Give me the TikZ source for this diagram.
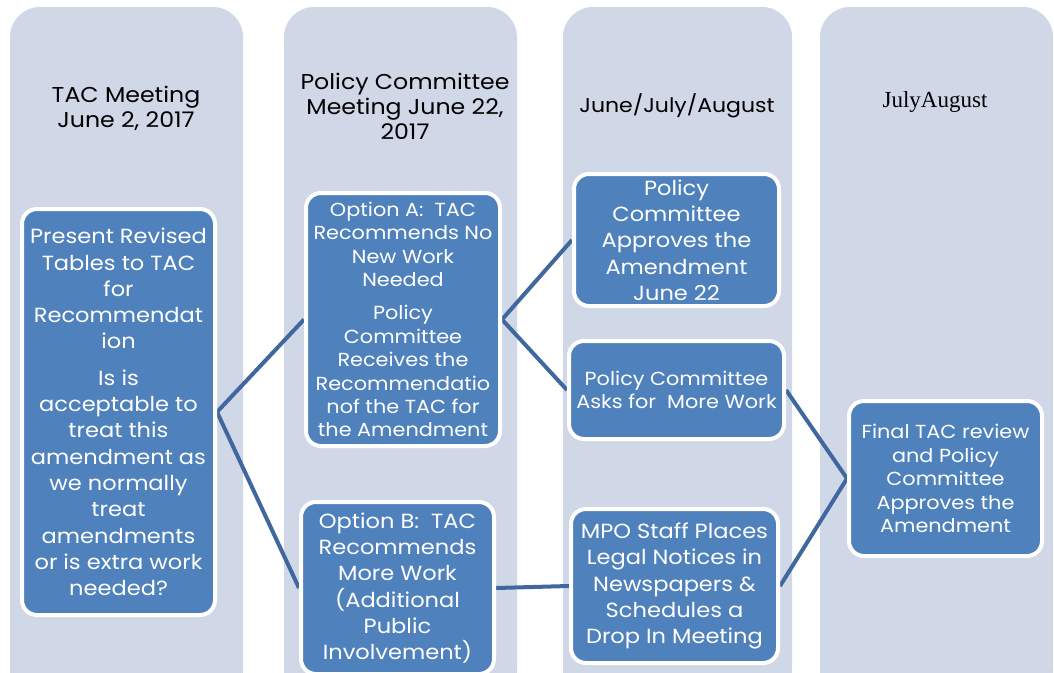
\documentclass[tikz,border=0pt]{standalone}
\usepackage{fontspec}
\setmainfont{Poppins}[FakeStretch=1.1]
\newfontfamily\serifti{Liberation Serif}
\pgfdeclarelayer{bg}
\pgfdeclarelayer{lines}
\pgfsetlayers{bg,lines,main}
\definecolor{colbg}{RGB}{208,216,231}
\definecolor{boxblue}{RGB}{79,129,189}
\definecolor{linkblue}{RGB}{65,104,158}
\tikzset{
  colbox/.style={fill=colbg, rounded corners=30pt},
  stepbox/.style={draw=white, line width=4pt, fill=boxblue, rounded corners=15pt,
    text=white, align=center, inner sep=0pt, font=\fontsize{20.5}{26.3}\selectfont},
  smallbox/.style={stepbox, font=\fontsize{18.9}{23.4}\selectfont},
  title/.style={align=center, text=black, font=\fontsize{21.5}{25}\selectfont},
  link/.style={draw=linkblue, line width=4pt}
}
\begin{document}
\begin{tikzpicture}[x=1pt,y=-1pt]
\useasboundingbox (0,0) rectangle (1054,672);
\clip (0,0) rectangle (1054,672);
\begin{pgfonlayer}{bg}
\fill[colbox] (10,7) rectangle (243,700);
\fill[colbox] (284,7) rectangle (517,700);
\fill[colbox] (563,7) rectangle (792,700);
\fill[colbox] (820,7) rectangle (1053,700);
\end{pgfonlayer}
\node[title] (t1) at (126,108) {TAC Meeting\\June 2, 2017};
\node[title] (t2) at (405,106) {Policy Committee\\Meeting June 22,\\2017};
\node[title, font=\fontsize{20}{25}\selectfont] (t3) at (677,106) {June/July/August};
\node[title, font=\serifti\fontsize{23}{25}\selectfont] (t4) at (935,102) {JulyAugust};

\node[stepbox, minimum width=193pt, minimum height=406pt] (b1) at (118.5,412)
  {Present Revised\\Tables to TAC\\for\\Recommendat\\ion\\[10pt]Is is\\acceptable to\\treat this\\amendment as\\we normally\\treat\\amendments\\or is extra work\\needed?};
\node[smallbox, minimum width=194pt, minimum height=253pt] (b2) at (403,319.5)
  {Option A:\ \ TAC\\Recommends No\\New Work\\Needed\\[10pt]Policy\\Committee\\Receives the\\Recommendatio\\nof the TAC for\\the Amendment};
\node[stepbox, minimum width=193pt, minimum height=172pt] (b3) at (397.5,588)
  {Option B:\ \ TAC\\Recommends\\More Work\\(Additional\\Public\\Involvement)};
\node[stepbox, minimum width=205pt, minimum height=132pt] (b4) at (676.5,240)
  {Policy\\Committee\\Approves the\\Amendment\\June 22};
\node[smallbox, minimum width=215pt, minimum height=98pt] (b5) at (676.5,390)
  {Policy Committee\\Asks for\ \ More Work};
\node[stepbox, minimum width=207pt, minimum height=154pt] (b6) at (674.5,586)
  {MPO Staff Places\\Legal Notices in\\Newspapers \&\\Schedules a\\Drop In Meeting};
\node[smallbox, minimum width=193pt, minimum height=155pt] (b7) at (945.5,478.5)
  {Final TAC review\\and Policy\\Committee\\Approves the\\Amendment};

\begin{pgfonlayer}{lines}
\draw[link] (b1.east) -- (b2.west);
\draw[link] (b1.east) -- (b3.west);
\draw[link] (b2.east) -- (b4.west);
\draw[link] (b2.east) -- (b5.west);
\draw[link] (b3.east) -- (b6.west);
\draw[link] (b5.east) -- (b7.west);
\draw[link] (b6.east) -- (b7.west);
\end{pgfonlayer}
\end{tikzpicture}
\end{document}
